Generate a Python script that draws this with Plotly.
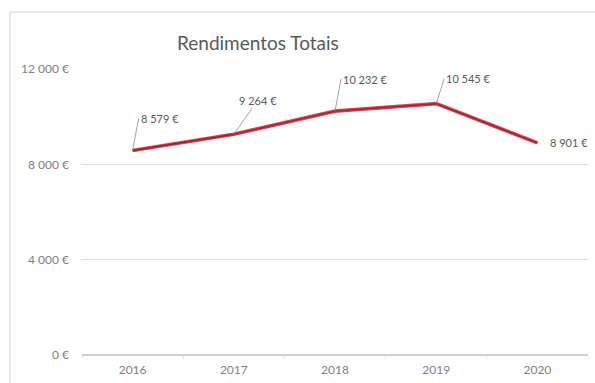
import plotly.graph_objects as go

# Rendimentos totais por ano (euros)
anos = ["2016", "2017", "2018", "2019", "2020"]
rendimentos = [8579, 9264, 10232, 10545, 8901]
rotulos = ["8 579 €", "9 264 €", "10 232 €", "10 545 €", "8 901 €"]
ticks_y = [0, 4000, 8000, 12000]
ticks_y_txt = ["0 €", "4 000 €", "8 000 €", "12 000 €"]

# label placement: (dx, dy) in px from each point, and text anchor
offsets = [(6, -32, "left"), (24, -34, "center"), (6, -32, "left"),
           (8, -25, "left"), (32, 0, "center")]

W, H = 595, 383
L, R, T, B = 82, 7, 69, 28

fig = go.Figure()
# soft outer stroke + darker core for the line
fig.add_trace(go.Scatter(x=anos, y=rendimentos, mode="lines",
                         line=dict(color="#D8404F", width=3.6), hoverinfo="skip"))
fig.add_trace(go.Scatter(x=anos, y=rendimentos, mode="lines",
                         line=dict(color="#8E2B35", width=1.4)))

lbl_font = dict(size=11, color="#595959")
for i, (v, txt, (dx, dy, anc)) in enumerate(zip(rendimentos, rotulos, offsets)):
    if dy == 0:
        fig.add_annotation(x=i, y=v, text=txt, showarrow=False, xshift=dx,
                           font=lbl_font)
    else:
        fig.add_annotation(x=i, y=v, text=txt, showarrow=True, ax=dx, ay=dy,
                           xanchor=anc, yanchor="middle",
                           arrowhead=0, arrowwidth=0.8, arrowcolor="#8c8c8c",
                           standoff=0, font=lbl_font)

pw = W - L - R
ph = H - T - B
# chart container border
fig.add_shape(type="rect", xref="paper", yref="paper",
              x0=(10 - L) / pw, x1=1.2, y0=-0.3, y1=(H - B - 12) / ph,
              line=dict(color="#d6d6d6", width=1), fillcolor="rgba(0,0,0,0)",
              layer="below")

fig.add_annotation(xref="paper", yref="paper", x=(258 - L) / pw,
                   y=(H - B - 42) / ph, text="Rendimentos Totais", showarrow=False,
                   font=dict(size=19, color="#595959"), xanchor="center",
                   yanchor="middle")

fig.update_layout(
    width=W, height=H,
    margin=dict(l=L, r=R, t=T, b=B),
    paper_bgcolor="white", plot_bgcolor="white",
    showlegend=False,
    font=dict(family="Lato, 'DejaVu Sans', sans-serif", color="#7f7f7f"),
    xaxis=dict(type="category", categoryorder="array", categoryarray=anos,
               range=[-0.5, len(anos) - 0.5], autorange=False,
               showgrid=False, showline=False, zeroline=False,
               ticks="outside", tickson="boundaries", ticklen=3,
               tickcolor="#e6e6e6", tickangle=0, ticklabelstandoff=6,
               tickfont=dict(size=12, color="#7f7f7f")),
    yaxis=dict(range=[0, 12000], tickvals=ticks_y, ticktext=ticks_y_txt,
               showgrid=True, gridcolor="#dcdcdc", gridwidth=1,
               zeroline=True, zerolinecolor="#d0d0d0", showline=False,
               ticks="", ticklabelstandoff=12,
               tickfont=dict(size=12, color="#7f7f7f")),
)

fig.write_html("out.html")
